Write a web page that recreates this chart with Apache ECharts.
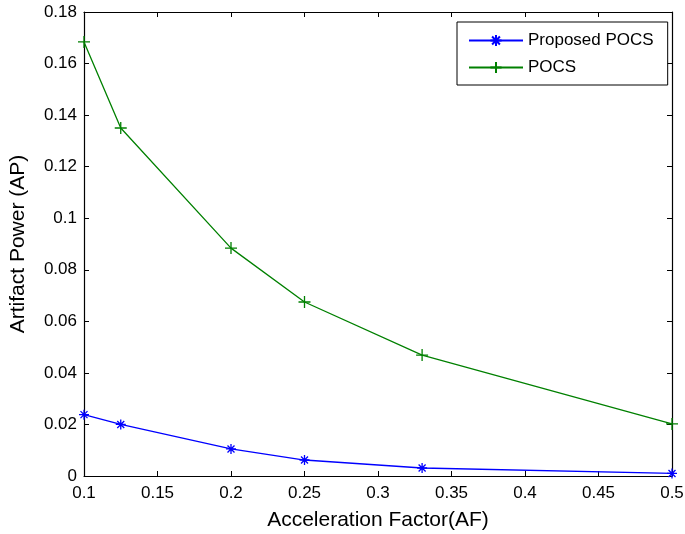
<!DOCTYPE html>
<html>
<head>
<meta charset="utf-8">
<script src="https://cdn.jsdelivr.net/npm/echarts@6/dist/echarts.min.js"></script>
<style>html,body{margin:0;padding:0;background:#fff;}#c{width:685px;height:534px;}</style>
</head>
<body>
<div id="c"></div>
<script>
// Data
const accelerationFactors = [0.1, 0.125, 0.2, 0.25, 0.33, 0.5];
const proposedPOCS = [0.0238, 0.0200, 0.0105, 0.0062, 0.0031, 0.0010];
const pocs = [0.1684, 0.1350, 0.0884, 0.0675, 0.0469, 0.0202];
const seriesNames = ['Proposed POCS', 'POCS'];
const xTitle = 'Acceleration Factor(AF)';
const yTitle = 'Artifact Power (AP)';

const FONT = '"Liberation Sans", Arial, Helvetica, sans-serif';
const PLUS = 'path://M0,-1L0,1M-1,0L1,0';
const STAR = 'path://M0,-1L0,1M-1,0L1,0M-0.7,-0.7L0.7,0.7M-0.7,0.7L0.7,-0.7';

function pairs(xs, ys) { return xs.map((x, i) => [x, ys[i]]); }
const fmt = v => String(+(+v).toFixed(3));

const baseX = {
  type: 'value', min: 0.1, max: 0.5, interval: 0.05,
  axisLine: { show: true, onZero: false, lineStyle: { color: '#000', width: 1.2 } },
  axisTick: { show: true, inside: true, length: 5, lineStyle: { color: '#000' } },
  splitLine: { show: false }
};
const baseY = {
  type: 'value', min: 0, max: 0.18, interval: 0.02,
  axisLine: { show: true, onZero: false, lineStyle: { color: '#000', width: 1.2 } },
  axisTick: { show: true, inside: true, length: 5, lineStyle: { color: '#000' } },
  splitLine: { show: false }
};

const chart = echarts.init(document.getElementById('c'), null, { renderer: 'canvas' });
chart.setOption({
  backgroundColor: '#fff',
  animation: false,
  textStyle: { fontFamily: FONT },
  grid: { left: 84, right: 13, top: 12, bottom: 58, containLabel: false, outerBoundsMode: 'none' },
  legend: {
    orient: 'vertical', left: 457, top: 22,
    padding: [10, 14, 9, 11],
    itemWidth: 54, itemHeight: 14, itemGap: 10,
    borderColor: '#000', borderWidth: 1, backgroundColor: '#fff',
    textStyle: { fontFamily: FONT, fontSize: 17, color: '#000' },
    data: seriesNames
  },
  xAxis: [
    Object.assign({}, baseX, {
      position: 'bottom',
      name: xTitle, nameLocation: 'middle', nameGap: 34,
      nameTextStyle: { fontFamily: FONT, fontSize: 21, color: '#000' },
      axisLabel: { show: true, margin: 9, fontSize: 17, color: '#000', fontFamily: FONT, formatter: fmt }
    }),
    Object.assign({}, baseX, { position: 'top', axisLabel: { show: false } })
  ],
  yAxis: [
    Object.assign({}, baseY, {
      position: 'left',
      name: yTitle, nameLocation: 'middle', nameGap: 55,
      nameTextStyle: { fontFamily: FONT, fontSize: 21, color: '#000' },
      axisLabel: { show: true, margin: 7, fontSize: 17, color: '#000', fontFamily: FONT, formatter: fmt }
    }),
    Object.assign({}, baseY, { position: 'right', axisLabel: { show: false } })
  ],
  series: [
    {
      name: seriesNames[0], type: 'line', xAxisIndex: 0, yAxisIndex: 0,
      data: pairs(accelerationFactors, proposedPOCS),
      symbol: STAR, symbolSize: 10, showSymbol: true,
      lineStyle: { color: '#0000ff', width: 1.3 },
      itemStyle: { color: 'rgba(0,0,0,0)', borderColor: '#0000ff', borderWidth: 1.3 },
      z: 3
    },
    {
      name: seriesNames[1], type: 'line', xAxisIndex: 0, yAxisIndex: 0,
      data: pairs(accelerationFactors, pocs),
      symbol: PLUS, symbolSize: 12, showSymbol: true,
      lineStyle: { color: '#008000', width: 1.3 },
      itemStyle: { color: 'rgba(0,0,0,0)', borderColor: '#008000', borderWidth: 1.3 },
      z: 3
    }
  ]
});
</script>
</body>
</html>
